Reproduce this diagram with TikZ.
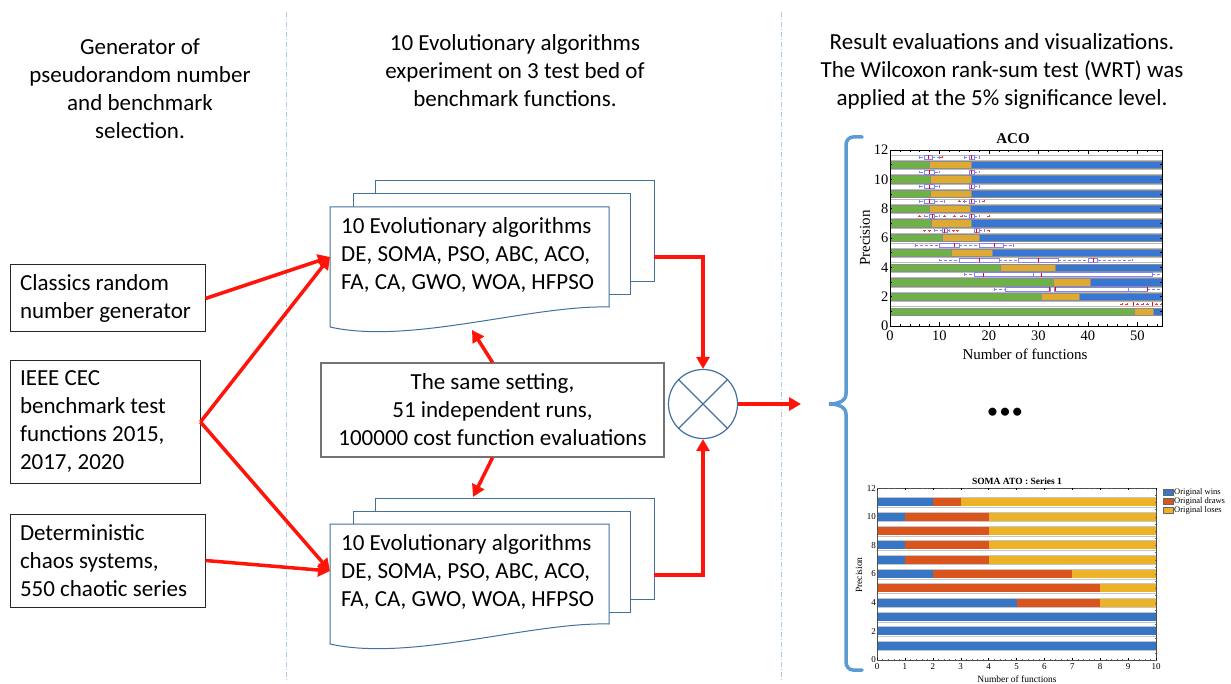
\documentclass[tikz,border=0pt]{standalone}
\usepackage{fontspec}
\setmainfont{Carlito}
\newfontfamily\chartfont{Liberation Serif}
\usetikzlibrary{arrows.meta}

\definecolor{docblue}{RGB}{65,113,156}
\definecolor{sepblue}{RGB}{170,200,232}
\definecolor{bracecol}{RGB}{91,155,213}
\definecolor{arrred}{RGB}{255,20,10}
\definecolor{acogreen}{RGB}{108,178,68}
\definecolor{acoyellow}{RGB}{222,170,50}
\definecolor{acoblue}{RGB}{56,118,212}
\definecolor{bpcol}{RGB}{130,130,255}
\definecolor{wincol}{RGB}{55,118,196}
\definecolor{drawcol}{RGB}{218,84,30}
\definecolor{losecol}{RGB}{236,178,40}

\newcommand\natsp{\spaceskip=0pt\xspaceskip=0pt\relax}

\tikzset{
 maintext/.style={font=\fontsize{23}{28}\selectfont},
 lbox/.style={maintext, draw=black!85, line width=1pt, align=left, inner xsep=10pt, inner ysep=0pt},
 msgbox/.style={maintext, draw=black!55, line width=1.2pt, align=center, inner sep=0pt, minimum width=343pt, minimum height=94pt},
 docback/.style={draw=docblue, line width=1pt, fill=white, inner sep=0pt, minimum height=101pt},
 doctext/.style={maintext, align=left, anchor=west, inner sep=0pt},
 redline/.style={draw=arrred, line width=3.5pt},
 redarrow/.style={redline, -{Triangle[length=12pt,width=13pt]}},
 sepline/.style={draw=sepblue, line width=1pt, dash pattern=on 5pt off 2pt on 1pt off 2pt},
 acobar/.style={draw=black!45, line width=0.3pt},
 bpline/.style={draw=bpcol, line width=0.5pt},
 acotick/.style={font=\chartfont\fontsize{14.5}{14.5}\selectfont, inner sep=1.5pt},
 somatick/.style={font=\chartfont\fontsize{9}{9}\selectfont, inner sep=1pt},
 legtext/.style={font=\chartfont\fontsize{8.5}{8.5}\selectfont, inner sep=0pt, anchor=west},
}

\newcommand\docshape[2]{%
 \draw[docback] (#1,#2) -- ++(279,0) -- ++(0,100) .. controls +(-79,-2) and +(80,18) .. ++(-279,20) -- cycle;}
\newcommand\bxp[6]{%
 \draw[bpline, densely dashed, line width=0.4pt] (#2,#1) -- (#3,#1) (#5,#1) -- (#6,#1);
 \draw[bpline, line width=0.4pt] (#2,#1-0.09) -- (#2,#1+0.09) (#6,#1-0.09) -- (#6,#1+0.09);
 \draw[bpline] (#3,#1-0.13) rectangle (#5,#1+0.13);
 \draw[red, line width=0.5pt] (#4,#1-0.13) -- (#4,#1+0.13);}
\newcommand\olr[2]{\foreach \ox in {#2} {\draw[red!80, line width=0.4pt] (\ox-0.3,#1) -- (\ox+0.3,#1) (\ox,#1-0.07) -- (\ox,#1+0.07);}}

\begin{document}
\begin{tikzpicture}[x=1pt,y=-1pt]
\useasboundingbox (0,0) rectangle (1231,684);
\fill[white] (0,0) rectangle (1231,684);

% separators
\draw[sepline] (286,12) -- (286,680);
\draw[sepline] (781,12) -- (781,680);

% headers
\node[maintext, align=center] (h1) at (140,89) {Generator of\\pseudorandom number\\and benchmark\\selection.};
\node[maintext, align=center] (h2) at (515,71) {10 Evolutionary algorithms\\experiment on 3 test bed of\\benchmark functions.};
\node[maintext, align=center] (h3) at (1002,71) {Result evaluations and visualizations.\\The Wilcoxon rank-sum test (WRT) was\\applied at the 5\% significance level.};

% left boxes
\node[lbox, text width=175pt, minimum height=67pt] (b1) at (107.5,298.5) {\natsp Classics random\\number generator};
\node[lbox, text width=170pt, minimum height=122pt] (b2) at (105,422) {\natsp IEEE CEC\\benchmark test\\functions 2015,\\2017, 2020};
\node[lbox, text width=175pt, minimum height=93pt] (b3) at (107.5,560.5) {\natsp Deterministic\\chaos systems,\\550 chaotic series};

% top stack
\node[docback, minimum width=279pt] (t3) at (514.5,231.5) {};
\node[docback, minimum width=277pt] (t2) at (491.5,244.5) {};
\docshape{330}{207}
\node[doctext] (t1) at (341,255) {10 Evolutionary algorithms\\DE, SOMA, PSO, ABC, ACO,\\FA, CA, GWO, WOA, HFPSO};

% bottom stack
\node[docback, minimum width=279pt] (d3) at (514.5,548.5) {};
\node[docback, minimum width=277pt] (d2) at (491.5,562) {};
\docshape{330}{524}
\node[doctext] (d1) at (341,572) {10 Evolutionary algorithms\\DE, SOMA, PSO, ABC, ACO,\\FA, CA, GWO, WOA, HFPSO};

% setting box
\node[msgbox] (msg) at (492.5,410) {The same setting,\\51 independent runs,\\100000 cost function evaluations};

% combiner
\node[draw=docblue, line width=1.2pt, circle, minimum size=69pt, inner sep=0pt] (mix) at (703,404) {};
\draw[docblue, line width=1.2pt] (mix.north west) -- (mix.south east) (mix.north east) -- (mix.south west);

% coordinates
\coordinate (tin) at (330,257);
\coordinate (bin) at (330,571);
\coordinate (tup) at (472,330);
\coordinate (bdown) at (473,497);
\coordinate (tout) at (654,257);
\coordinate (bout) at (654,575);
\coordinate (res) at (801,404);

% arrows
\draw[redarrow] (b1.east) -- (tin);
\draw[redarrow] (b2.east) -- (tin);
\draw[redarrow] (b2.east) -- (bin);
\draw[redarrow] (b3.east) -- (bin);
\draw[redarrow] (msg.north) -- (tup);
\draw[redarrow] (msg.south) -- (bdown);
\draw[redarrow] (tout) -| (mix.north);
\draw[redarrow] (bout) -| (mix.south);
\draw[redarrow] (mix.east) -- (res);

% brace
\draw[bracecol, line width=3.5pt, line cap=round] (862,137) -- (853,137) to[out=180,in=90] (846,145) -- (846,394) to[out=-90,in=0] (829,404) to[out=0,in=90] (846,414) -- (846,662) to[out=-90,in=180] (853,670) -- (862,670);

% ellipsis
\node[font=\fontsize{19}{19}\selectfont\bfseries, inner sep=0pt] (dots) at (1005,413) {•\kern3pt•\kern3pt•};

% ================= ACO chart
\node[font=\chartfont\bfseries\fontsize{15}{15}\selectfont, inner sep=0pt] (acotitle) at (1013,139) {ACO};
\node[font=\chartfont\fontsize{15}{15}\selectfont, inner sep=0pt] (acoxl) at (1025,354) {Number of functions};
\node[font=\chartfont\fontsize{15}{15}\selectfont, inner sep=0pt, rotate=90] (acoyl) at (865,238) {Precision};
\begin{scope}[xshift=890pt, yshift=-326pt, x=4.945pt, y=14.67pt]
 \foreach \s in {1.5,2.5,...,11.5} \draw[gray!55, line width=0.4pt] (0,\s-0.17) rectangle (55,\s+0.17);
 \foreach \yb/\ga/\gb in {1/49.3/53.3, 2/30.5/38.2, 3/33/40.5, 4/22.2/33.3, 5/12.3/20.7, 6/10.5/18, 7/8.3/16.5, 8/8/16.3, 9/8.2/16.4, 10/8.2/16.4, 11/8/16.4} {
   \draw[acobar, fill=acogreen] (0,\yb-0.25) rectangle (\ga,\yb+0.25);
   \draw[acobar, fill=acoyellow] (\ga,\yb-0.25) rectangle (\gb,\yb+0.25);
   \draw[acobar, fill=acoblue] (\gb,\yb-0.25) rectangle (55,\yb+0.25);
 }
 % boxplots
 \bxp{11.5}{6}{7}{7.8}{8.5}{10} \olr{11.5}{10.5} \bxp{11.5}{15}{16}{16.5}{17}{18}
 \bxp{10.5}{6}{7}{8}{9}{10} \bxp{10.5}{16}{16}{16.5}{17}{18}
 \bxp{9.5}{6}{7}{8}{9}{10} \bxp{9.5}{16}{16}{16.5}{17}{18}
 \bxp{8.5}{6}{7}{8}{9}{11} \olr{8.5}{14,15} \bxp{8.5}{15}{16}{16.5}{17}{18} \olr{8.5}{19}
 \olr{7.5}{6,11,13,14.5,20} \bxp{7.5}{7}{8}{8.5}{9}{10} \bxp{7.5}{15}{16}{16.5}{17}{18}
 \olr{6.5}{7,8,12.8,13.6,20} \bxp{6.5}{9}{10.5}{11}{11.5}{12} \bxp{6.5}{17}{17}{17.5}{18}{19}
 \bxp{5.5}{5}{10}{13}{14}{18} \bxp{5.5}{18}{18}{21}{23}{25}
 \bxp{4.5}{10}{14}{18}{22}{26} \bxp{4.5}{26}{26}{30}{34}{40} \bxp{4.5}{40}{40}{41}{42}{49}
 \bxp{3.5}{15}{17}{18.8}{29}{29} \bxp{3.5}{29}{29}{30.5}{53}{55}
 \bxp{2.5}{21}{23.4}{32.2}{32.4}{32.4} \bxp{2.5}{33.2}{33.2}{33.4}{48.2}{48.2} \bxp{2.5}{48.2}{48.2}{52}{52}{55}
 \olr{1.5}{46.9,47.9,50,51.1,52.1,53.9,54.9}
 \draw[red, line width=0.5pt] (49.1,1.37) -- (49.1,1.63) (53,1.37) -- (53,1.63);
 % frame and ticks
 \draw[line width=0.6pt] (0,0) rectangle (55,12);
 \foreach \xx in {0,2,...,54} \draw[line width=0.4pt] (\xx,0) -- ++(0,0.12) (\xx,12) -- ++(0,-0.12);
 \foreach \xx in {0,10,...,50} \draw[line width=0.6pt] (\xx,0) -- ++(0,0.25) (\xx,12) -- ++(0,-0.25);
 \foreach \yy in {0,...,12} \draw[line width=0.4pt] (0,\yy) -- ++(0.4,0) (55,\yy) -- ++(-0.4,0);
 \foreach \xx in {0,10,...,50} \node[acotick, anchor=north, yshift=-3pt] at (\xx,0) {\xx};
 \foreach \yy in {0,2,...,12} \node[acotick, anchor=east] at (0,\yy) {\yy};
\end{scope}

% ================= SOMA chart
\node[font=\chartfont\bfseries\fontsize{9.5}{9.5}\selectfont, inner sep=0pt] (somatitle) at (1017,481) {SOMA ATO : Series 1};
\node[font=\chartfont\fontsize{9.5}{9.5}\selectfont, inner sep=0pt] (somaxl) at (1017,679) {Number of functions};
\node[font=\chartfont\fontsize{9.5}{9.5}\selectfont, inner sep=0pt, rotate=90] (somayl) at (859,575) {Precision};
\begin{scope}[xshift=877pt, yshift=-660pt, x=27.9pt, y=14.33pt]
 \foreach \yb/\wa/\wb in {1/10/10, 2/10/10, 3/10/10, 4/5/8, 5/0/8, 6/2/7, 7/1/4, 8/1/4, 9/0/4, 10/1/4, 11/2/3} {
   \draw[gray!45, line width=0.4pt] (0,\yb-0.34) rectangle (10,\yb+0.34);
   \fill[losecol] (0,\yb-0.28) rectangle (10,\yb+0.28);
   \fill[drawcol] (0,\yb-0.28) rectangle (\wb,\yb+0.28);
   \fill[wincol] (0,\yb-0.28) rectangle (\wa,\yb+0.28);
 }
 \draw[line width=0.5pt, black!70] (0,0) rectangle (10,12);
 \foreach \xx in {0,0.2,...,9.9} \draw[line width=0.3pt, black!60] (\xx,0) -- ++(0,0.08) (\xx,12) -- ++(0,-0.08);
 \foreach \xx in {0,...,10} \draw[line width=0.4pt] (\xx,0) -- ++(0,0.16) (\xx,12) -- ++(0,-0.16);
 \foreach \yy in {0,0.5,...,12} \draw[line width=0.3pt, black!60] (0,\yy) -- ++(0.05,0) (10,\yy) -- ++(-0.05,0);
 \foreach \xx in {0,...,10} \node[somatick, anchor=north, yshift=-2pt] at (\xx,0) {\xx};
 \foreach \yy in {0,2,...,12} \node[somatick, anchor=east] at (0,\yy) {\yy};
\end{scope}

% legend
\fill[wincol] (1163,489) rectangle (1173,495); \draw[black!60, line width=0.3pt] (1163,489) rectangle (1173,495);
\fill[drawcol] (1163,498) rectangle (1173,504); \draw[black!60, line width=0.3pt] (1163,498) rectangle (1173,504);
\fill[losecol] (1163,507) rectangle (1173,513); \draw[black!60, line width=0.3pt] (1163,507) rectangle (1173,513);
\node[legtext] (lw) at (1174,492) {Original wins};
\node[legtext] (ld) at (1174,501) {Original draws};
\node[legtext] (ll) at (1174,510) {Original loses};
\end{tikzpicture}
\end{document}
